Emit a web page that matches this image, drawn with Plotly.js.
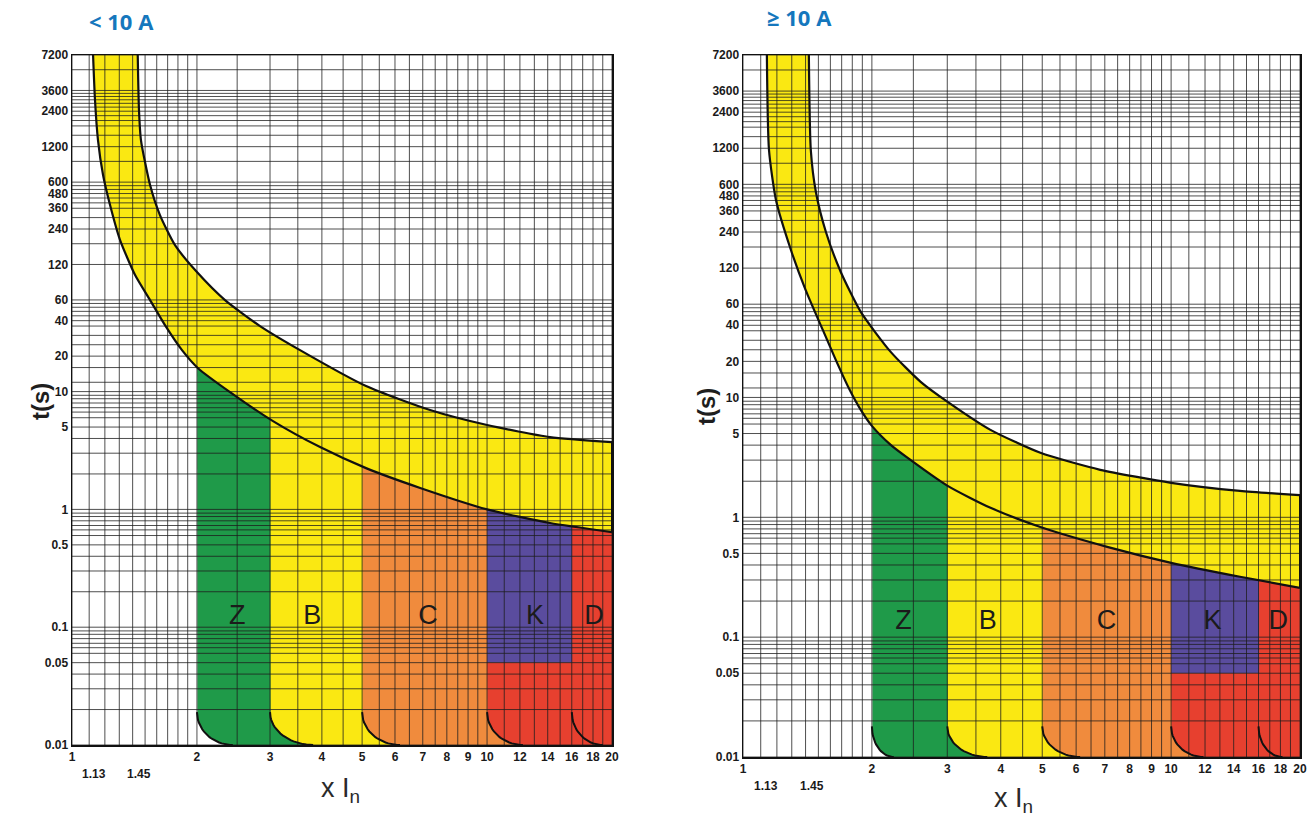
<!DOCTYPE html>
<html><head><meta charset="utf-8">
<script src="https://cdn.plot.ly/plotly-3.0.1.min.js"></script>
<style>html,body{margin:0;padding:0;background:#fff}#chart{width:1313px;height:819px}</style>
</head><body><div id="chart"></div>
<script>
// ---------------- data ----------------
const leftTitle = '< 10 A';
const rightTitle = '\u2265 10 A';
const xAxisTitle = 'x I<sub>n</sub>';
const yAxisTitle = 't(s)';

const yTickVals = [7200, 3600, 2400, 1200, 600, 480, 360, 240, 120, 60, 40, 20, 10, 5, 1, 0.5, 0.1, 0.05, 0.01];
const yTickText = ['7200', '3600', '2400', '1200', '600', '480', '360', '240', '120', '60', '40', '20', '10', '5', '1', '0.5', '0.1', '0.05', '0.01'];
const xTickVals = [1, 2, 3, 4, 5, 6, 7, 8, 9, 10, 12, 14, 16, 18, 20];
const xTickText = ['1', '2', '3', '4', '5', '6', '7', '8', '9', '10', '12', '14', '16', '18', '20'];
const xLowTickVals = [1.13, 1.45];          // labels written on a second row
const xLowTickText = ['1.13', '1.45'];

// grid of the log paper
const xGrid = [1, 1.1, 1.2, 1.3, 1.4, 1.5, 1.6, 1.7, 1.8, 1.9, 2, 2.5, 3, 3.5, 4, 4.5, 5, 5.5, 6, 6.5, 7, 7.5, 8, 8.5, 9, 9.5, 10, 11, 12, 13, 14, 15, 16, 17, 18, 19, 20];
const yGrid = [7200, 5400, 3600, 3400, 3200, 3000, 2800, 2600, 2400, 2200, 2000, 1800, 1500, 1200, 900,
  600, 560, 520, 480, 440, 400, 360, 300, 240, 180, 120,
  60, 56, 52, 48, 44, 40, 36, 30, 25, 20, 16, 12,
  10, 9.3, 8.7, 8, 7.3, 6.7, 6, 5, 4, 3, 2,
  1, 0.93, 0.87, 0.8, 0.73, 0.67, 0.6, 0.5, 0.4, 0.3, 0.2,
  0.1, 0.093, 0.087, 0.08, 0.073, 0.067, 0.06, 0.05, 0.04, 0.03, 0.02, 0.01];

// tripping band, < 10 A
const leftUpperX = [1.44, 1.45, 1.466, 1.542, 1.629, 1.771, 2.0, 2.337, 2.838, 3.543, 5.11, 7.29, 10.0, 14.18, 20];
const leftUpperY = [7200, 2455, 1366, 567, 315, 175, 103.5, 59.8, 36, 22.5, 11.15, 6.97, 5.2, 4.11, 3.73];
const leftLowerX = [1.124, 1.136, 1.155, 1.188, 1.235, 1.305, 1.419, 1.542, 1.675, 1.841, 2.012, 2.403, 3.05, 3.96, 5.11, 6.9, 10.0, 14.18, 20];
const leftLowerY = [7200, 2985, 1366, 689, 383, 194, 97.6, 59.8, 36.7, 22.5, 15.8, 9.9, 5.62, 3.38, 2.24, 1.52, 1.0, 0.766, 0.642];

// tripping band, >= 10 A
const rightUpperX = [1.425, 1.44, 1.48, 1.562, 1.692, 1.884, 2.213, 2.6, 3.006, 3.785, 4.95, 6.83, 10.0, 14.48, 20];
const rightUpperY = [7200, 1161, 518, 240, 111.5, 51.7, 24, 13.5, 9.18, 5.36, 3.45, 2.49, 1.94, 1.66, 1.53];
const rightLowerX = [1.137, 1.15, 1.194, 1.294, 1.40, 1.536, 1.647, 1.766, 1.884, 2.0, 2.213, 2.425, 3.006, 3.785, 4.95, 7.09, 10.0, 14.48, 20];
const rightLowerY = [7200, 1161, 444, 170, 79, 36.6, 20.6, 12.0, 7.88, 5.79, 4.02, 3.13, 1.83, 1.2, 0.83, 0.567, 0.417, 0.319, 0.258];

// magnetic zones (curve types)
const zoneNames = ['Z', 'B', 'C', 'K', 'D'];
const zoneStart = [2, 3, 5, 10, 16];
const kSplit = 0.05;                       // K: purple above, red below
const leftCornerEnd = [2.44, 3.81, 6.17, 12.2, 19.0];
const leftCornerTop = [0.019, 0.019, 0.019, 0.019, 0.019];
const rightCornerEnd = [2.25, 3.72, 6.13, 11.9, 18.2];
const rightCornerTop = [0.018, 0.018, 0.018, 0.018, 0.018];
const leftLabelX = [2.50, 3.79, 7.21, 13.05, 18.1];
const leftLabelY = 0.122;
const rightLabelX = [2.37, 3.73, 7.06, 12.5, 17.8];
const rightLabelY = 0.132;

const X_MIN = 1, X_MAX = 20, Y_MIN = 0.01, Y_MAX = 7200;

// ---------------- styles ----------------
const COL = { Z: '#1f9a49', B: '#fae812', C: '#f08b3d', Kp: '#5a4c9e', Kr: '#e7402f', D: '#e7402f' };
const BAND = '#fae812';
const GRID = 'rgba(30,30,30,0.78)';
const SMOOTH = 0.6;

function corner(x0, xEnd, yTop) {
  // rounded lower-left corner (quarter ellipse in log space)
  const lx0 = Math.log10(x0), lx1 = Math.log10(xEnd), ly1 = Math.log10(yTop), ly0 = Math.log10(Y_MIN);
  const a = lx1 - lx0, b = ly1 - ly0, xs = [], ys = [];
  for (let i = 0; i <= 20; i++) {
    const t = (Math.PI / 2) * i / 20;
    xs.push(Math.pow(10, lx1 - a * Math.cos(t)));
    ys.push(Math.pow(10, ly1 - b * Math.sin(t)));
  }
  return { xs, ys };
}

function buildSubplot(xa, ya, upX, upY, loX, loY, cEnd, cTop, labX, labY) {
  const tr = [];
  const zoneKeys = ['Z', 'B', 'C', 'K', 'D'];
  zoneKeys.forEach((k, i) => {
    const x0 = zoneStart[i];
    const c = corner(x0, cEnd[i], cTop[i]);
    if (k === 'K') {
      tr.push({ x: [x0, x0, X_MAX, X_MAX], y: [Y_MAX, kSplit, kSplit, Y_MAX], xaxis: xa, yaxis: ya,
        mode: 'lines', fill: 'toself', fillcolor: COL.Kp, line: { width: 0 }, hoverinfo: 'skip' });
      tr.push({ x: [x0].concat(c.xs, [X_MAX, X_MAX]), y: [kSplit].concat(c.ys, [Y_MIN, kSplit]), xaxis: xa, yaxis: ya,
        mode: 'lines', fill: 'toself', fillcolor: COL.Kr, line: { width: 0 }, hoverinfo: 'skip' });
    } else {
      tr.push({ x: [x0].concat(c.xs, [X_MAX, X_MAX]), y: [Y_MAX].concat(c.ys, [Y_MIN, Y_MAX]), xaxis: xa, yaxis: ya,
        mode: 'lines', fill: 'toself', fillcolor: COL[k], line: { width: 0 }, hoverinfo: 'skip' });
    }
  });
  // yellow band between curves
  tr.push({ x: loX, y: loY, xaxis: xa, yaxis: ya, mode: 'lines', line: { width: 0, shape: 'spline', smoothing: SMOOTH }, hoverinfo: 'skip' });
  tr.push({ x: upX, y: upY, xaxis: xa, yaxis: ya, mode: 'lines', fill: 'tonexty', fillcolor: BAND,
    line: { width: 0, shape: 'spline', smoothing: SMOOTH }, hoverinfo: 'skip' });
  // blank paper above the band
  tr.push({ x: [upX[0], X_MAX], y: [Y_MAX, Y_MAX], xaxis: xa, yaxis: ya, mode: 'lines', fill: 'tonexty', fillcolor: '#ffffff',
    line: { width: 0 }, hoverinfo: 'skip' });
  // grid
  const gx = [], gy = [];
  xGrid.forEach(v => { gx.push(v, v, null); gy.push(Y_MIN, Y_MAX, null); });
  yGrid.forEach(v => { gx.push(X_MIN, X_MAX, null); gy.push(v, v, null); });
  tr.push({ x: gx, y: gy, xaxis: xa, yaxis: ya, mode: 'lines', line: { color: GRID, width: 1 }, hoverinfo: 'skip' });
  // band outlines
  tr.push({ x: loX, y: loY, xaxis: xa, yaxis: ya, mode: 'lines', line: { color: '#111', width: 2.2, shape: 'spline', smoothing: SMOOTH }, hoverinfo: 'skip' });
  tr.push({ x: upX, y: upY, xaxis: xa, yaxis: ya, mode: 'lines', line: { color: '#111', width: 2.2, shape: 'spline', smoothing: SMOOTH }, hoverinfo: 'skip' });
  tr.push({ x: [X_MAX, X_MAX], y: [loY[loY.length - 1], upY[upY.length - 1]], xaxis: xa, yaxis: ya, mode: 'lines', line: { color: '#111', width: 2 }, hoverinfo: 'skip' });
  // corner outlines
  zoneStart.forEach((x0, i) => {
    const c = corner(x0, cEnd[i], cTop[i]);
    tr.push({ x: c.xs, y: c.ys, xaxis: xa, yaxis: ya, mode: 'lines', line: { color: '#111', width: 2 }, hoverinfo: 'skip' });
  });
  // zone letters
  tr.push({ x: labX, y: labX.map(() => labY), text: zoneNames, xaxis: xa, yaxis: ya, mode: 'text',
    textfont: { family: 'Liberation Sans, Arial, sans-serif', size: 27, color: '#1b1b1b' }, hoverinfo: 'skip' });
  return tr;
}

const traces = [].concat(
  buildSubplot('x', 'y', leftUpperX, leftUpperY, leftLowerX, leftLowerY, leftCornerEnd, leftCornerTop, leftLabelX, leftLabelY),
  buildSubplot('x2', 'y2', rightUpperX, rightUpperY, rightLowerX, rightLowerY, rightCornerEnd, rightCornerTop, rightLabelX, rightLabelY)
);

const tickFont = { family: 'Liberation Sans Narrow, Arial Narrow, Liberation Sans, sans-serif', size: 12, color: '#1a1a1a', weight: 'bold' };
function xAxis(domain, anchor) {
  return { type: 'log', range: [0, Math.log10(X_MAX)], domain, anchor, tickmode: 'array', tickvals: xTickVals, ticktext: xTickText,
    showgrid: false, zeroline: false, showline: true, mirror: true, linecolor: '#111', linewidth: 1.5, ticks: '',
    tickfont: tickFont, tickangle: 0, fixedrange: true };
}
function yAxis(domain, anchor) {
  return { type: 'log', range: [Math.log10(Y_MIN), Math.log10(Y_MAX)], domain, anchor, tickmode: 'array', tickvals: yTickVals, ticktext: yTickText,
    showgrid: false, zeroline: false, showline: true, mirror: true, linecolor: '#111', linewidth: 1.5, ticks: '',
    tickfont: tickFont, fixedrange: true };
}

const titleFont = { family: 'Open Sans, Liberation Sans, sans-serif', size: 22, color: '#1577bd', weight: 'bold' };
const axTitleFont = { family: 'Liberation Sans, Arial, sans-serif', size: 24, color: '#1e1e1e', weight: 'bold' };
const xTitleFont = { family: 'Liberation Sans, Arial, sans-serif', size: 27, color: '#2a2a2a' };

function note(text, px, py, font, angle) {
  return { text, xref: 'paper', yref: 'paper', x: px / 1313, y: 1 - py / 819, xanchor: 'center', yanchor: 'middle',
    showarrow: false, font, textangle: angle || 0 };
}
function lowTicks(xref, py) {
  // second-row x labels placed at their own value on the log axis
  return xLowTickVals.map((v, i) => ({ text: xLowTickText[i], xref, yref: 'paper', x: Math.log10(v), y: 1 - py / 819,
    xanchor: 'center', yanchor: 'middle', showarrow: false, font: tickFont }));
}

const layout = {
  width: 1313, height: 819, showlegend: false, hovermode: false,
  margin: { l: 0, r: 0, t: 0, b: 0 },
  paper_bgcolor: '#ffffff', plot_bgcolor: '#ffffff',
  xaxis: xAxis([72 / 1313, 612 / 1313], 'y'),
  yaxis: yAxis([(819 - 745) / 819, (819 - 55) / 819], 'x'),
  xaxis2: xAxis([743 / 1313, 1300 / 1313], 'y2'),
  yaxis2: yAxis([(819 - 757) / 819, (819 - 55) / 819], 'x2'),
  annotations: [
    note(leftTitle, 121, 21, titleFont),
    note(rightTitle, 799, 17, titleFont),
    note(yAxisTitle, 40, 402, axTitleFont, -90),
    note(yAxisTitle, 706, 407, axTitleFont, -90),
    note(xAxisTitle, 340, 790, xTitleFont),
    note(xAxisTitle, 1013, 800, xTitleFont)
  ].concat(lowTicks('x', 774), lowTicks('x2', 786))
};

Plotly.newPlot('chart', traces, layout, { displayModeBar: false, staticPlot: true });
</script>
</body></html>
